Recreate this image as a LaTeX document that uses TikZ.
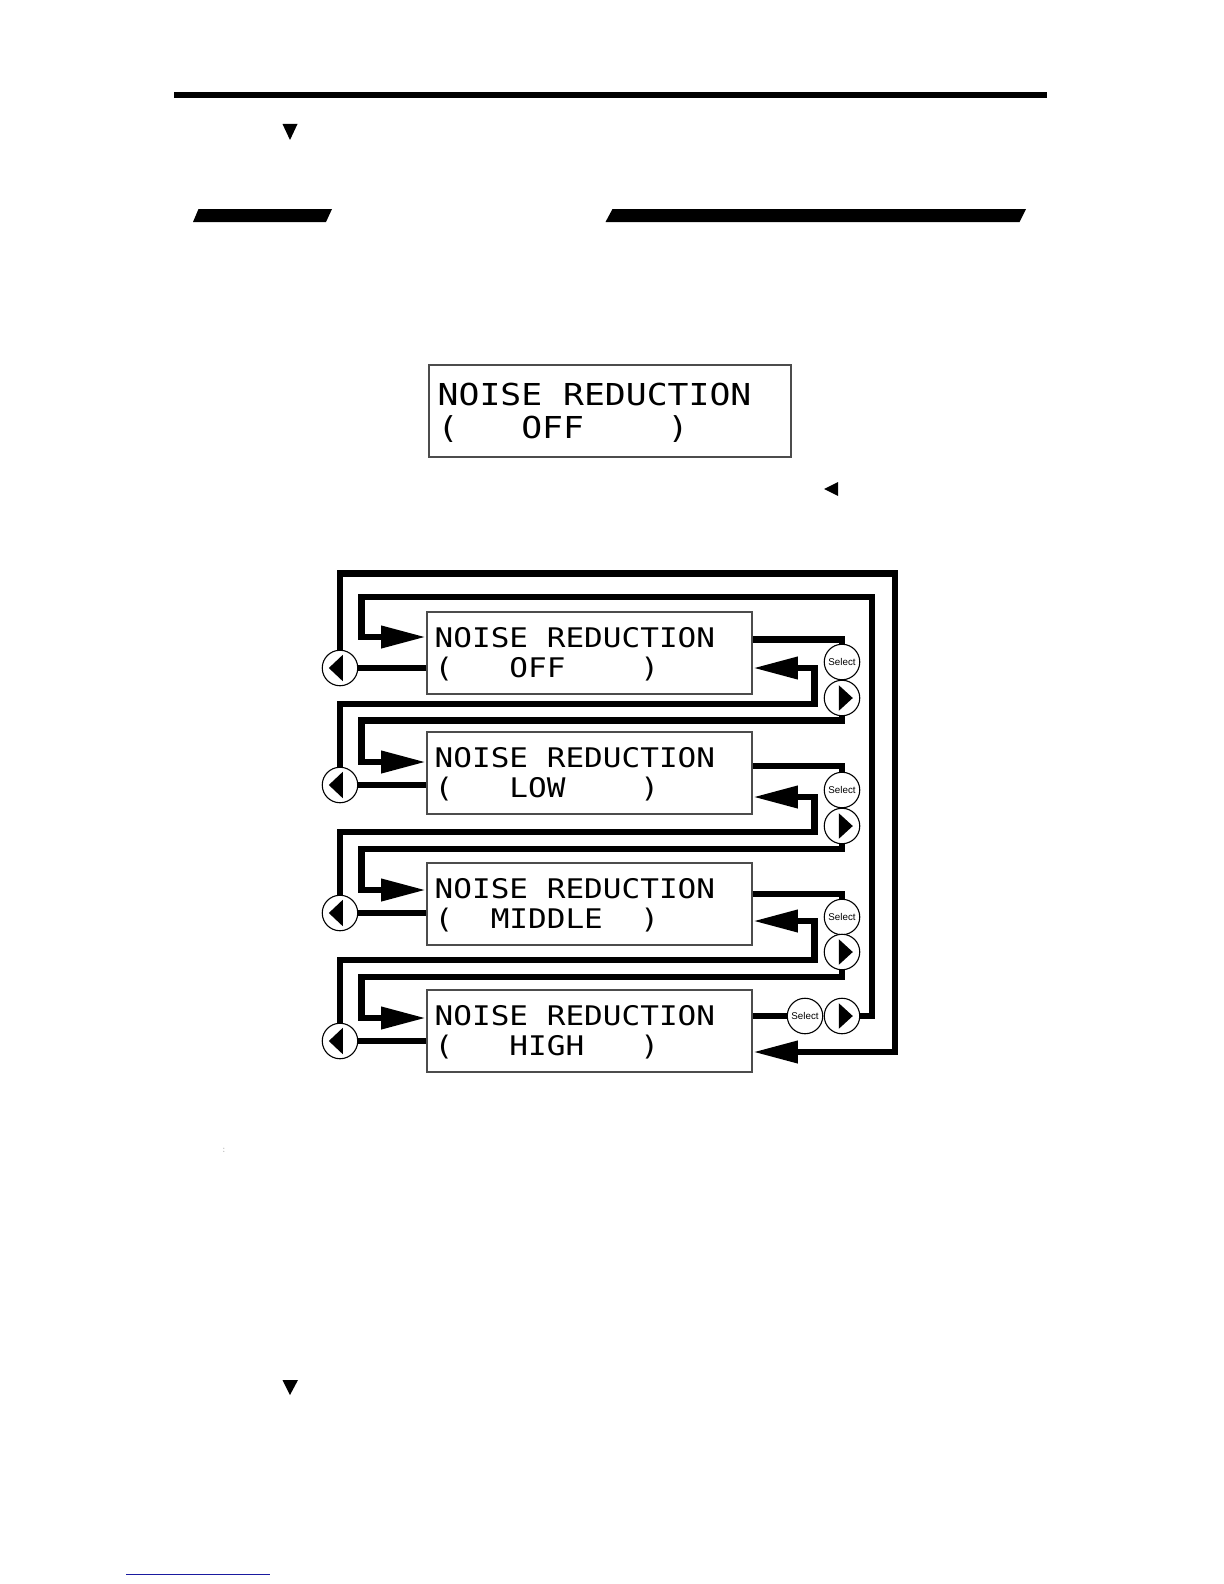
\documentclass[tikz,border=0pt]{standalone}
\usepackage{fontspec}
\usepackage{xcolor}
\usepackage{tikz}
\usetikzlibrary{calc,arrows.meta}
\newfontfamily\lcdfont[FakeStretch=1.15]{DejaVu Sans Mono}
\newfontfamily\btnfont{Liberation Sans}
\definecolor{linkc}{HTML}{1A1AA0}
\tikzset{
  wire/.style={line width=3.4pt,black},
  ar/.style={wire,-{Triangle[length=22.5pt,width=10.5pt]}},
  lcd/.style={draw=black!70,line width=0.8pt,minimum width=162.5pt,minimum height=41pt,inner sep=0pt},
  lcdtx/.style={font=\lcdfont\fontsize{13.5}{15}\selectfont,inner sep=0pt,anchor=base west},
  btn/.style={circle,draw,line width=0.55pt,fill=white,minimum size=17.75pt,inner sep=0pt},
  lbtn/.style={btn,path picture={\fill[black] ([xshift=-5.6pt]path picture bounding box.center) -- ++(7pt,6.6pt) -- ++(0,-13.2pt) -- cycle;}},
  rbtn/.style={btn,path picture={\fill[black] ([xshift=5.4pt]path picture bounding box.center) -- ++(-7pt,6.4pt) -- ++(0,-12.8pt) -- cycle;}},
  sbtn/.style={btn,font=\btnfont\fontsize{4.9}{6}\selectfont}
}
\newcommand{\lcdrow}[3]{% name, top y, second line
  \node[lcd] (#1) at (589.5,#2+41) {};
  \node[lcdtx] (#1a) at (434.3,#2+35.5) {NOISE~REDUCTION};
  \node[lcdtx] (#1b) at (434.3,#2+65.5) {#3};}

\begin{document}
\begin{tikzpicture}[x=0.5pt,y=-0.5pt]
\useasboundingbox (0,0) rectangle (1224,1584);
% page furniture
\fill (174,92) rectangle (1047,98);
\fill (282.5,124) -- (297.5,124) -- (290,140) -- cycle;
\fill (193,222) -- (326,222) -- (332,209) -- (198.5,209) -- cycle;
\fill (605.5,222) -- (1019.5,222) -- (1026,209) -- (612.5,209) -- cycle;
% single display
\node[lcd,minimum width=181pt,minimum height=46pt] (disp) at (610,411) {};
\node[lcdtx,font=\lcdfont\fontsize{15.1}{17}\selectfont] (dispa) at (437.3,405) {NOISE~REDUCTION};
\node[lcdtx,font=\lcdfont\fontsize{15.1}{17}\selectfont] (dispb) at (437.3,438) {(~~~OFF~~~~)};
\fill (824,489) -- (838,482) -- (838,496) -- cycle;
% menu cycle
\lcdrow{off}{612}{(~~~OFF~~~~)}
\lcdrow{low}{732}{(~~~LOW~~~~)}
\lcdrow{mid}{863}{(~~MIDDLE~~)}
\lcdrow{high}{990}{(~~~HIGH~~~)}
\node[lbtn] (offl) at (340,668) {};
\node[lbtn] (lowl) at (340,785) {};
\node[lbtn] (midl) at (340,913) {};
\node[lbtn] (highl) at (340,1041) {};
\node[sbtn] (offs) at (842,662) {Select};
\node[rbtn] (offr) at (842,698) {};
\node[sbtn] (lows) at (842,790) {Select};
\node[rbtn] (lowr) at (842,826) {};
\node[sbtn] (mids) at (842,917) {Select};
\node[rbtn] (midr) at (842,952) {};
\node[sbtn] (highs) at (805,1016) {Select};
\node[rbtn] (highr) at (842,1016) {};
% left keys to their box
\draw[wire] (offl) -- (offl -| off.west);
\draw[wire] (lowl) -- (lowl -| low.west);
\draw[wire] (midl) -- (midl -| mid.west);
\draw[wire] (highl) -- (highl -| high.west);
% box to select key
\draw[wire] (off.east |- 0,639.5) -| (offs);
\draw[wire] (low.east |- 0,766) -| (lows);
\draw[wire] (mid.east |- 0,894) -| (mids);
\draw[wire] (high.east |- highs) -- (highs);
% wrap round
\draw[ar] (offl) |- (895,573.5) |- ($(high.east)+(0,21)$);
\draw[ar] (highr) -- (872,1016) |- (361.5,597) |- ($(off.west)+(0,-16)$);
% step down / up
\draw[ar] (lowl) |- (814.5,704) |- ($(off.east)+(0,15)$);
\draw[ar] (offr) |- (361.5,720.5) |- ($(low.west)+(0,-11)$);
\draw[ar] (midl) |- (814.5,832) |- ($(low.east)+(0,24)$);
\draw[ar] (lowr) |- (361.5,849) |- ($(mid.west)+(0,-14)$);
\draw[ar] (highl) |- (814.5,960) |- ($(mid.east)+(0,17)$);
\draw[ar] (midr) |- (361.5,977) |- ($(high.west)+(0,-13)$);
% lower page
\node[font=\tiny,text=black!30,inner sep=0pt] (dots) at (224,1150) {:};
\fill (282.5,1380) -- (298,1380) -- (290,1395) -- cycle;
\draw[linkc,line width=0.8pt] (126,1574.5) -- (270,1574.5);
\end{tikzpicture}
\end{document}
